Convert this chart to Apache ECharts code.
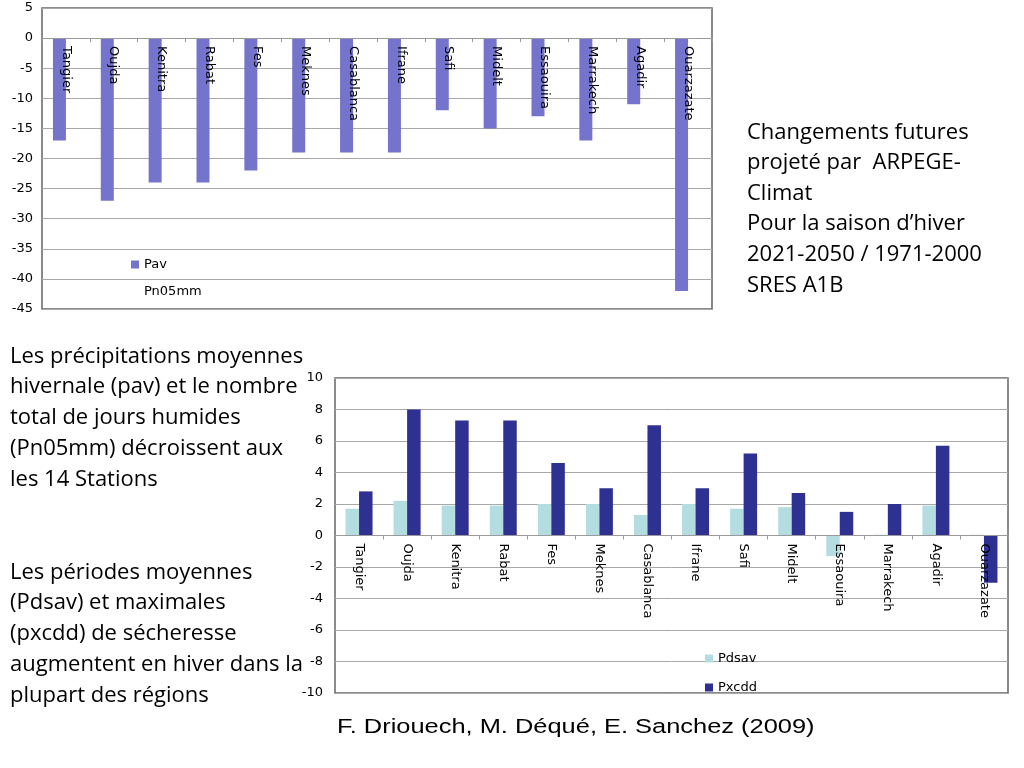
<!DOCTYPE html>
<html>
<head>
<meta charset="utf-8">
<script src="https://cdn.jsdelivr.net/npm/echarts@6/dist/echarts.min.js"></script>
<style>
html,body{margin:0;padding:0;background:#fff;}
#c{width:1024px;height:768px;}
</style>
</head>
<body>
<div id="c"></div>
<script>
const stations = ['Tangier','Oujda','Kenitra','Rabat','Fes','Meknes','Casablanca','Ifrane','Safi','Midelt','Essaouira','Marrakech','Agadir','Ouarzazate'];
const pav = [-17,-27,-24,-24,-22,-19,-19,-19,-12,-15,-13,-17,-11,-42];
const pn05mm = [null,null,null,null,null,null,null,null,null,null,null,null,null,null];
const pdsav = [1.7,2.2,1.9,1.9,2.0,2.0,1.3,2.0,1.7,1.8,-1.3,0.05,1.9,0.05];
const pxcdd = [2.8,8.0,7.3,7.3,4.6,3.0,7.0,3.0,5.2,2.7,1.5,2.0,5.7,-3.0];

const textRight = ['Changements futures','projeté par  ARPEGE-','Climat','Pour la saison d\u2019hiver','2021-2050 / 1971-2000','SRES A1B'];
const textLeft1 = ['Les précipitations moyennes','hivernale (pav) et le nombre','total de jours humides','(Pn05mm) décroissent aux','les 14 Stations'];
const textLeft2 = ['Les périodes moyennes','(Pdsav) et maximales','(pxcdd) de sécheresse','augmentent en hiver dans la','plupart des régions'];
const caption = 'F. Driouech, M. Déqué, E. Sanchez (2009)';

const FONT = '"DejaVu Sans", sans-serif';
const CAPF = '"Liberation Sans", Arial, sans-serif';
const BODY = '"Open Sans", sans-serif';

const g1 = {left:42, top:8, width:670, height:301, min:-45, max:5, interval:5};
const g2 = {left:335, top:378, width:673, height:315, min:-10, max:10, interval:2};

const chart = echarts.init(document.getElementById('c'));

function xAx(gi, g){
  // axis line sits on the value-0 line; labels hang just below that line inside the plot
  const belowZero = g.height * (0 - g.min) / (g.max - g.min);
  return {
    type:'category', gridIndex:gi, data:stations, position:'bottom', z:5,
    axisLine:{onZero:true, lineStyle:{color:'#9a9a9a', width:1}},
    axisTick:{show:true, length:4, lineStyle:{color:'#9a9a9a'}},
    axisLabel:{rotate:-90, color:'#000', fontFamily:FONT, fontSize:13, margin:-belowZero + 8, interval:0},
    splitLine:{show:false}
  };
}
function yAx(gi,g,margin){
  return {
    type:'value', gridIndex:gi, min:g.min, max:g.max, interval:g.interval,
    axisLine:{show:false}, axisTick:{show:false},
    axisLabel:{color:'#000', fontFamily:FONT, fontSize:13, margin:margin},
    splitLine:{show:true, lineStyle:{color:'#a8a8a8', width:1}}
  };
}

const option = {
  backgroundColor:'#fff',
  animation:false,
  grid:[
    {left:g1.left, top:g1.top, width:g1.width, height:g1.height, show:true, borderColor:'#666', borderWidth:1.5},
    {left:g2.left, top:g2.top, width:g2.width, height:g2.height, show:true, borderColor:'#666', borderWidth:1.5}
  ],
  xAxis:[xAx(0,g1), xAx(1,g2)],
  yAxis:[yAx(0,g1,9), yAx(1,g2,12)],
  legend:[
    {orient:'vertical', left:126, top:253, icon:'rect', itemWidth:8, itemHeight:8, itemGap:14,
     textStyle:{fontFamily:FONT, fontSize:13, color:'#000'}, data:['Pav','Pn05mm'], selectedMode:false},
    {orient:'vertical', left:700, top:647, icon:'rect', itemWidth:8, itemHeight:8, itemGap:16,
     textStyle:{fontFamily:FONT, fontSize:13, color:'#000'}, data:['Pdsav','Pxcdd'], selectedMode:false}
  ],
  series:[
    {name:'Pav', type:'bar', xAxisIndex:0, yAxisIndex:0, data:pav, barWidth:13, barGap:'0%', itemStyle:{color:'#7474CC'}},
    {name:'Pn05mm', type:'bar', xAxisIndex:0, yAxisIndex:0, data:pn05mm, barWidth:13, barGap:'0%', itemStyle:{color:'rgba(0,0,0,0)'}},
    {name:'Pdsav', type:'bar', xAxisIndex:1, yAxisIndex:1, data:pdsav, barWidth:13.5, barGap:'0%', itemStyle:{color:'#B4DDE1'}},
    {name:'Pxcdd', type:'bar', xAxisIndex:1, yAxisIndex:1, data:pxcdd, barWidth:13.5, barGap:'0%', itemStyle:{color:'#2E3192'}}
  ],
  graphic:[
    {type:'text', x:747, y:117, style:{text:textRight.join('\n'), font:'22px '+BODY, fill:'#000', lineHeight:30.6, textVerticalAlign:'top'}},
    {type:'text', x:10, y:341, style:{text:textLeft1.join('\n'), font:'22px '+BODY, fill:'#000', lineHeight:30.8, textVerticalAlign:'top'}},
    {type:'text', x:10, y:557, style:{text:textLeft2.join('\n'), font:'22px '+BODY, fill:'#000', lineHeight:30.8, textVerticalAlign:'top'}},
    {type:'text', x:337, y:727, scaleX:1.24, style:{text:caption, font:'20.5px '+CAPF, fill:'#000', textVerticalAlign:'middle'}}
  ]
};
chart.setOption(option);
</script>
</body>
</html>
